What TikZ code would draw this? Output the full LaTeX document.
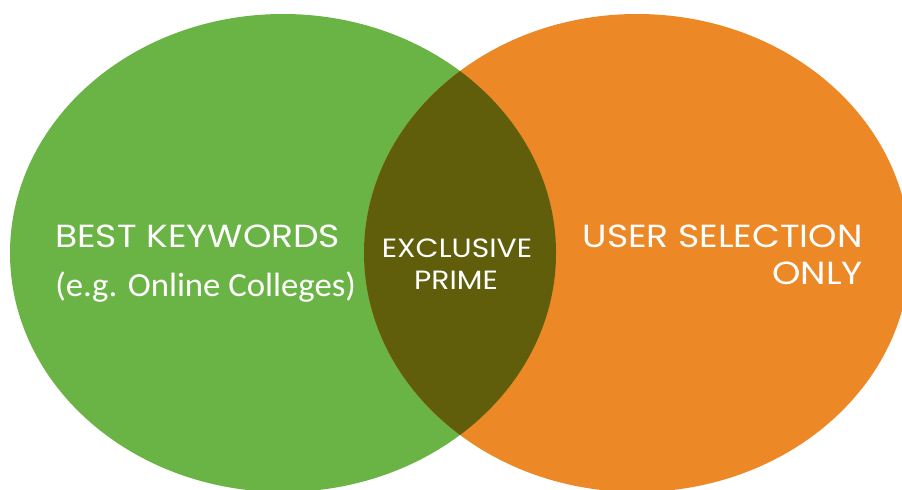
\documentclass[tikz,border=0pt]{standalone}
\usepackage{fontspec}
\usepackage{tikz}
\newfontfamily\capsfont[FakeStretch=1.13]{Poppins}
\newfontfamily\notefont[FakeStretch=1.03]{Carlito}
\definecolor{keyGreen}{HTML}{6AB446}
\definecolor{userOrange}{HTML}{EC8826}
\definecolor{primeOlive}{HTML}{605E0A}

\begin{document}
\begin{tikzpicture}[x=0.75pt,y=-0.75pt]
\tikzset{every node/.style={inner sep=0pt, text=white},
  bigcaps/.style={font=\capsfont\fontsize{24}{29}\selectfont},
  smallcaps/.style={font=\capsfont\fontsize{19.8}{24}\selectfont},
  notetext/.style={font=\notefont\fontsize{25.3}{30}\selectfont}}
\useasboundingbox (0,0) rectangle (902,489);
\fill [keyGreen] (283,253) ellipse (273 and 239);
\fill [userOrange] (637,253) ellipse (273 and 239);
\begin{scope}
\clip (283,253) ellipse (273 and 239);
\fill [primeOlive] (637,253) ellipse (273 and 239);
\end{scope}
\node [bigcaps, anchor=base west] (best) at (55,247) {BEST KEYWORDS};
\node [notetext, anchor=base west] (eg) at (55,296) {(e.g. Online Colleges)};
\node [smallcaps, anchor=base] (excl) at (457,257) {EXCLUSIVE};
\node [smallcaps, anchor=base] (prime) at (456,289) {PRIME};
\node [bigcaps, anchor=base east] (user) at (863,247) {USER SELECTION};
\node [bigcaps, anchor=base east] (only) at (863,284) {ONLY};
\end{tikzpicture}
\end{document}
